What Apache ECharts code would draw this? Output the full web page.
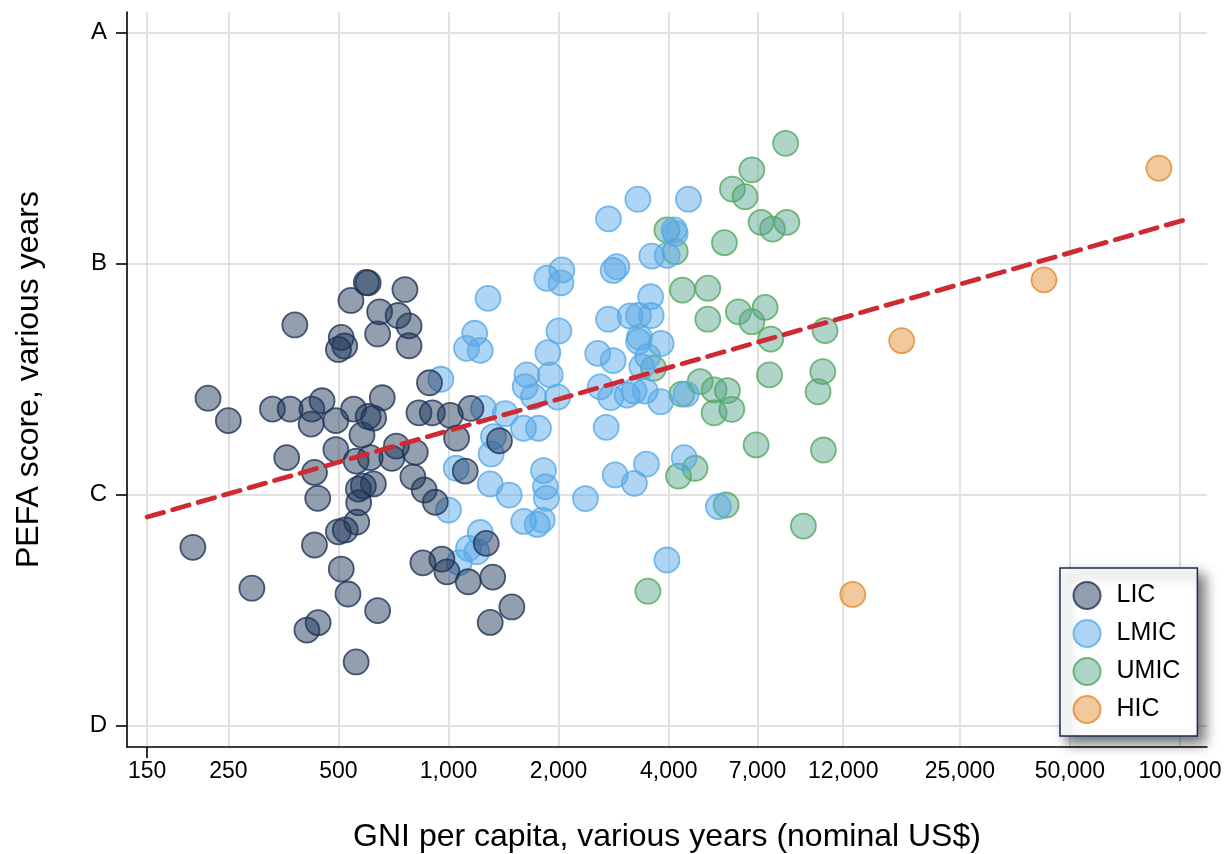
<!DOCTYPE html>
<html><head><meta charset="utf-8">
<script src="https://cdn.jsdelivr.net/npm/echarts@6/dist/echarts.min.js"></script>
<style>html,body{margin:0;padding:0;background:#fff}#c{width:1229px;height:854px}</style>
</head><body><div id="c"></div>
<script>
const xTickValues = [150,250,500,1000,2000,4000,7000,12000,25000,50000,100000];
const yTickValues = [1,2,3,4];
const yTickLabels = ['D','C','B','A'];
const groupNames = ['LIC','LMIC','UMIC','HIC'];

const lic = [[200,1.772],[220,2.417],[250,2.320],[290,1.595],[330,2.370],[361,2.160],[369,2.370],[380,2.734],[423,2.370],[451,2.406],[421,2.305],[430,2.096],[439,1.984],[430,1.782],[410,1.414],[440,1.446],[492,2.320],[492,2.195],[500,1.839],[522,1.847],[509,1.678],[531,1.570],[500,2.628],[509,2.680],[520,2.643],[541,2.840],[596,2.918],[603,2.916],[550,2.370],[559,2.145],[611,2.160],[580,2.258],[603,2.338],[624,2.331],[567,2.024],[585,2.037],[623,2.046],[568,1.965],[561,1.881],[559,1.276],[640,1.498],[648,2.791],[640,2.695],[659,2.419],[720,2.210],[700,2.157],[760,2.887],[728,2.775],[780,2.730],[780,2.644],[811,2.183],[799,2.077],[858,2.020],[920,1.967],[887,2.484],[830,2.354],[903,2.354],[1011,2.343],[1151,2.373],[1052,2.244],[1378,2.233],[1111,2.102],[851,1.705],[959,1.721],[990,1.666],[1132,1.623],[1321,1.643],[1490,1.514],[1300,1.447],[1268,1.789]];

const lmic = [[953,2.499],[1282,2.849],[1179,2.698],[1120,2.633],[1221,2.624],[1246,2.373],[1429,2.350],[1327,2.251],[1308,2.176],[1050,2.114],[1300,2.046],[1465,1.998],[1000,1.933],[1221,1.836],[1134,1.768],[1196,1.753],[1070,1.706],[1603,2.287],[1762,2.287],[1638,2.518],[1620,2.467],[1707,2.424],[1897,2.518],[1869,2.614],[2003,2.708],[1857,2.936],[2041,2.972],[2030,2.916],[1988,2.422],[1818,2.104],[1841,2.034],[1852,1.984],[1605,1.884],[1748,1.871],[1804,1.890],[2368,1.983],[2698,2.291],[2855,2.085],[3222,2.049],[3476,2.132],[4408,2.160],[5469,1.948],[3954,1.717],[2598,2.466],[2776,2.420],[3078,2.431],[3217,2.448],[3448,2.448],[3802,2.402],[2558,2.611],[2819,2.580],[3327,2.681],[3310,2.662],[3813,2.654],[3503,2.597],[3378,2.553],[2737,2.759],[3137,2.773],[3306,2.775],[3581,2.775],[3569,2.856],[2819,2.970],[2885,2.986],[2737,3.193],[3293,3.278],[4528,3.278],[4139,3.145],[4166,3.130],[3596,3.032],[3961,3.035],[4463,2.435]];

const umic = [[8350,3.520],[6750,3.405],[5973,3.322],[6470,3.289],[7154,3.178],[7688,3.149],[8413,3.178],[5679,3.090],[3954,3.145],[4166,3.051],[4361,2.885],[5116,2.893],[5116,2.759],[6203,2.791],[6750,2.748],[7338,2.810],[7601,2.673],[10703,2.710],[3633,2.547],[4345,2.435],[4874,2.489],[5323,2.453],[5788,2.450],[5323,2.354],[5950,2.369],[7543,2.518],[10549,2.532],[10242,2.445],[6934,2.215],[10590,2.193],[4722,2.114],[4253,2.080],[5741,1.955],[9337,1.864],[3508,1.582]];

const hic = [[87560,3.412],[42460,2.929],[17340,2.666],[12740,1.568]];

const trend = [[150,1.903],[105800,3.194]];

const FONT = '"Liberation Sans", Arial, Helvetica, sans-serif';
const fmt = v => String(Math.round(v)).replace(/\B(?=(\d{3})+(?!\d))/g, ',');
const XMIN = 132.1, XMAX = 118500;

const chart = echarts.init(document.getElementById('c'), null, {renderer:'canvas'});
chart.setOption({
  animation: false,
  backgroundColor: '#fff',
  grid: {left:127, right:22, top:12, bottom:107, containLabel:false, outerBoundsMode:'none'},
  xAxis: [{
    type:'log', logBase:10, min:XMIN, max:XMAX,
    axisLine:{show:true, onZero:false, lineStyle:{color:'#000', width:1.6}},
    axisTick:{show:false, customValues:xTickValues},
    axisLabel:{customValues:xTickValues, formatter:v=>fmt(v), fontSize:23, color:'#000', fontFamily:FONT, margin:13},
    splitLine:{show:true, lineStyle:{color:'#e1e1e1', width:2}},
    minorTick:{show:false}, minorSplitLine:{show:false},
    name:'GNI per capita, various years (nominal US$)', nameLocation:'middle', nameGap:74,
    nameTextStyle:{fontSize:32, color:'#000', fontFamily:FONT}
  },{
    type:'log', logBase:10, min:XMIN, max:XMAX, position:'bottom', gridIndex:0,
    axisLine:{show:false, onZero:false},
    axisTick:{show:true, customValues:[xTickValues[0]], length:11, lineStyle:{color:'#000', width:1.6}},
    axisLabel:{show:false}, splitLine:{show:false}
  }],
  yAxis: {
    type:'value', min:0.908, max:4.088,
    axisLine:{show:true, onZero:false, lineStyle:{color:'#000', width:1.6}},
    axisTick:{show:true, customValues:yTickValues, length:11, lineStyle:{color:'#000', width:1.6}},
    axisLabel:{customValues:yTickValues, formatter:v=>yTickLabels[yTickValues.indexOf(Math.round(v))], fontSize:24, color:'#000', fontFamily:FONT, margin:20},
    splitLine:{show:true, lineStyle:{color:'#e1e1e1', width:2}},
    name:'PEFA score, various years', nameLocation:'middle', nameGap:82, nameRotate:90,
    nameTextStyle:{fontSize:32, color:'#000', fontFamily:FONT}
  },
  legend: {
    data: groupNames, orient:'vertical', left:1060, top:568,
    backgroundColor:'#fff', borderColor:'#1a2e4f', borderWidth:1.5,
    padding:[13,17,12,12.5], itemGap:9, itemWidth:27, itemHeight:27, icon:'circle',
    textStyle:{fontSize:25, lineHeight:27, color:'#000', fontFamily:FONT, padding:[0,0,0,11]},
    shadowBlur:12, shadowColor:'rgba(0,0,0,0.55)', shadowOffsetX:7, shadowOffsetY:7
  },
  series: [
    {type:'scatter', name:'UMIC', data:umic, symbolSize:25,
     itemStyle:{color:'rgba(88,165,143,0.6)', borderColor:'#55a85c', borderWidth:1.8}},
    {type:'scatter', name:'HIC', data:hic, symbolSize:25,
     itemStyle:{color:'rgba(227,140,50,0.6)', borderColor:'#e38b30', borderWidth:1.8}},
    {type:'scatter', name:'LMIC', data:lmic, symbolSize:25,
     itemStyle:{color:'rgba(85,168,232,0.6)', borderColor:'#5aaae6', borderWidth:1.8}},
    {type:'scatter', name:'LIC', data:lic, symbolSize:25,
     itemStyle:{color:'rgba(29,53,87,0.6)', borderColor:'#1f3557', borderWidth:1.8}},
    {type:'line', name:'Fit', data:trend, symbol:'none', z:5, silent:true,
     lineStyle:{color:'#cf2a33', width:4.8, type:[17,9.5], cap:'round'}}
  ]
});
</script>
</body></html>
